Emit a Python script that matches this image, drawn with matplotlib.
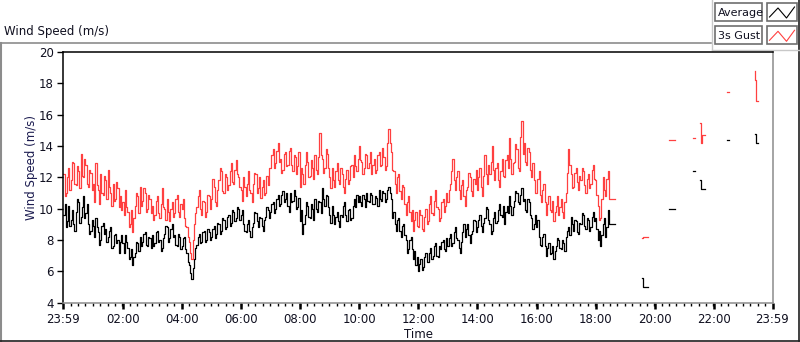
import numpy as np
import matplotlib
matplotlib.use("Agg")
import matplotlib.pyplot as plt
from matplotlib.lines import Line2D
from matplotlib.patches import Rectangle

plt.rcParams['font.family'] = ['DejaVu Sans']

# ---------------- data ----------------
# continuous record, 2.5-minute samples starting at 23:59 (minutes since start)
sample_step_min = 2.5

avg_speed = [
    9.6, 10.3, 8.8, 9.2, 10.2, 8.9, 9.3, 9.9, 9.0, 8.6, 9.8, 10.6, 10.4, 9.1, 9.5, 10.1, 10.8, 9.4, 9.7, 10.3, 9.0, 8.4, 8.6, 9.3,
    8.9, 8.2, 9.4, 8.8, 8.5, 7.7, 8.0, 8.9, 9.1, 8.4, 8.7, 7.9, 8.2, 8.6, 8.8, 7.5, 7.6, 8.3, 8.4, 7.8, 8.0, 7.2, 7.9, 8.3,
    7.8, 7.2, 8.3, 7.9, 7.5, 6.8, 6.9, 7.4, 6.4, 6.9, 7.2, 7.9, 7.8, 7.3, 8.2, 7.6, 7.9, 8.4, 8.5, 7.7, 7.6, 8.2, 8.1, 7.5,
    8.3, 7.6, 7.8, 8.5, 8.6, 7.9, 8.0, 7.3, 7.5, 8.1, 8.4, 8.9, 8.8, 7.9, 8.1, 8.7, 9.0, 8.2, 8.3, 7.7, 7.6, 8.4, 8.2, 7.4,
    7.6, 8.1, 8.2, 7.4, 7.2, 6.6, 6.4, 5.9, 5.5, 6.2, 6.8, 7.5, 7.7, 8.2, 8.4, 7.8, 7.9, 8.5, 8.6, 7.9, 8.0, 8.7, 8.5, 8.0,
    8.2, 8.7, 8.9, 8.1, 8.4, 9.1, 9.0, 8.4, 8.6, 9.4, 9.3, 8.7, 8.8, 9.5, 9.6, 8.9, 9.1, 9.9, 9.8, 9.2, 9.4, 10.1, 10.0, 9.3,
    9.6, 9.9, 9.0, 8.6, 8.5, 9.0, 9.3, 8.6, 8.2, 8.8, 9.1, 9.8, 9.7, 9.2, 8.8, 9.5, 9.4, 8.9, 8.6, 9.3, 9.5, 10.1, 9.9, 9.4,
    9.8, 10.3, 10.4, 9.7, 10.0, 10.6, 10.9, 10.2, 10.3, 10.9, 11.1, 10.4, 10.6, 11.0, 10.2, 9.8, 11.0, 10.4, 10.5, 11.2, 10.8, 10.0, 10.1, 10.7,
    9.2, 9.9, 8.4, 9.0, 9.6, 10.4, 10.2, 9.5, 9.4, 10.3, 10.0, 9.3, 10.6, 10.0, 9.8, 10.5, 10.4, 9.7, 11.3, 10.6, 10.2, 10.9, 10.8, 10.1,
    9.6, 9.1, 10.2, 9.6, 9.0, 9.5, 9.8, 9.2, 8.8, 9.6, 9.5, 10.2, 10.4, 9.6, 9.2, 9.9, 10.0, 9.3, 9.4, 10.2, 10.6, 10.1, 10.9, 10.4,
    10.8, 10.4, 10.2, 10.9, 10.6, 10.1, 11.0, 10.5, 10.4, 11.0, 10.9, 10.3, 10.3, 10.8, 10.7, 10.2, 11.2, 10.6, 10.5, 11.1, 11.0, 10.4, 10.6, 11.2,
    11.4, 11.0, 10.6, 9.4, 9.8, 9.0, 8.6, 9.3, 9.4, 8.6, 8.2, 8.9, 9.0, 8.3, 8.0, 7.2, 7.4, 8.0, 8.2, 7.4, 6.8, 7.3, 6.4, 6.9,
    6.0, 6.5, 6.8, 6.1, 6.3, 6.9, 7.2, 6.6, 6.6, 7.2, 7.5, 6.8, 7.0, 7.6, 7.8, 7.0, 6.9, 7.6, 7.4, 7.9, 8.0, 7.4, 7.3, 8.1,
    7.6, 8.1, 8.4, 7.6, 7.8, 8.5, 8.8, 8.1, 8.0, 7.5, 7.2, 7.9, 8.5, 9.0, 8.2, 8.7, 9.0, 8.3, 7.8, 8.4, 8.6, 9.3, 9.2, 8.5,
    8.8, 9.3, 9.6, 8.9, 8.5, 9.1, 9.4, 10.1, 10.0, 9.3, 9.0, 8.4, 8.6, 9.4, 9.8, 9.1, 9.2, 9.9, 10.3, 9.6, 9.5, 10.2, 9.0, 9.8,
    10.2, 9.7, 10.8, 10.2, 9.6, 10.1, 10.5, 11.1, 11.0, 10.4, 10.3, 10.9, 11.3, 10.5, 10.6, 9.9, 9.8, 10.6, 10.4, 9.6, 9.4, 8.7, 9.0, 9.6,
    8.8, 9.3, 8.2, 7.7, 7.6, 8.2, 8.4, 7.6, 7.0, 7.5, 7.8, 7.1, 7.2, 7.6, 6.8, 7.3, 7.6, 8.1, 8.0, 7.5, 7.4, 8.0, 7.8, 7.3,
    8.2, 8.6, 8.8, 8.3, 9.5, 9.0, 8.6, 9.3, 9.2, 8.5, 8.4, 9.1, 9.0, 9.7, 9.6, 8.9, 8.7, 9.4, 9.3, 8.6, 8.8, 9.5, 9.8, 9.2,
    9.4, 8.7, 8.0, 8.6, 7.6, 8.3, 9.0, 9.4, 8.2, 8.8, 9.9, 9.05, 9.05, 9.05, 9.05, 9.05, 9.05,
]

gust_speed = [
    12.2, 10.8, 11.0, 12.0, 12.6, 11.2, 11.8, 13.0, 12.9, 11.6, 11.5, 12.7, 12.4, 11.3, 13.5, 12.1, 12.0, 13.2, 12.8, 11.6, 11.4, 12.5, 12.3, 11.2,
    11.6, 10.4, 12.9, 11.5, 11.2, 10.3, 12.2, 11.0, 10.9, 12.1, 11.8, 10.6, 12.5, 11.4, 11.0, 10.2, 11.6, 10.5, 10.6, 11.7, 11.3, 10.1, 10.8, 9.9,
    10.4, 9.6, 11.2, 10.1, 9.8, 8.8, 9.0, 9.9, 8.5, 9.4, 10.2, 11.0, 10.8, 9.7, 11.4, 10.2, 10.5, 11.3, 11.0, 9.8, 10.0, 10.9, 10.6, 9.7,
    10.2, 9.3, 9.6, 10.5, 10.8, 9.7, 9.4, 10.3, 11.3, 10.1, 10.0, 9.3, 10.6, 9.8, 9.2, 10.0, 10.4, 9.5, 9.7, 10.6, 10.9, 9.8, 9.5, 10.3,
    10.0, 10.6, 9.4, 8.9, 8.8, 8.2, 7.9, 7.2, 6.8, 8.0, 9.0, 9.7, 10.1, 10.8, 11.2, 10.0, 9.6, 10.5, 10.4, 9.5, 9.8, 10.9, 10.8, 10.0,
    10.6, 11.9, 11.4, 10.4, 10.2, 11.2, 11.8, 12.6, 12.4, 11.1, 11.0, 12.2, 12.0, 11.2, 11.5, 12.4, 12.9, 11.7, 11.6, 12.5, 13.1, 12.2, 12.0, 11.4,
    11.2, 10.5, 12.0, 11.4, 10.8, 11.6, 12.4, 11.2, 11.0, 10.4, 11.6, 12.3, 12.2, 11.0, 11.3, 12.0, 10.7, 11.4, 11.8, 10.9, 11.0, 12.1, 11.5, 12.6,
    12.6, 13.4, 13.8, 12.6, 12.9, 13.7, 14.2, 13.0, 13.2, 12.3, 12.5, 13.5, 13.6, 12.7, 12.8, 13.7, 13.9, 12.8, 12.4, 13.4, 13.3, 12.2, 12.7, 13.6,
    11.4, 12.6, 12.2, 11.6, 12.8, 13.6, 13.0, 12.0, 12.1, 13.1, 12.6, 11.9, 13.4, 12.5, 12.2, 13.3, 14.8, 13.4, 13.2, 12.3, 12.6, 13.8, 13.5, 12.6,
    12.0, 11.3, 12.6, 11.8, 11.4, 12.4, 12.9, 11.8, 11.6, 12.6, 12.2, 11.4, 11.0, 11.9, 12.5, 11.6, 11.8, 12.7, 12.8, 12.0, 13.4, 12.7, 12.4, 13.2,
    14.0, 13.1, 13.0, 12.2, 12.6, 13.5, 13.4, 12.6, 12.9, 13.6, 12.2, 12.8, 13.2, 12.3, 12.5, 13.4, 13.6, 12.7, 12.8, 13.9, 13.3, 12.5, 12.7, 14.2,
    15.1, 14.2, 13.6, 12.5, 12.4, 11.6, 11.0, 12.0, 12.2, 11.1, 10.6, 11.5, 11.4, 10.3, 9.6, 10.4, 10.8, 9.8, 9.2, 9.9, 8.6, 9.3, 9.8, 8.9,
    8.8, 9.9, 9.6, 8.7, 8.6, 9.5, 10.0, 9.0, 9.2, 10.3, 10.8, 9.7, 9.6, 10.5, 11.2, 10.1, 10.0, 9.2, 9.4, 10.4, 10.6, 9.8, 10.2, 11.0,
    10.4, 11.2, 11.6, 12.4, 13.2, 11.8, 11.2, 12.0, 12.4, 11.2, 10.6, 11.5, 11.8, 10.8, 10.2, 11.2, 11.4, 12.3, 12.0, 11.1, 10.8, 11.9, 11.6, 12.5,
    11.2, 12.0, 12.6, 11.4, 10.8, 12.1, 13.4, 12.2, 11.6, 12.8, 12.2, 13.0, 14.0, 12.5, 11.8, 12.6, 12.9, 11.8, 11.4, 12.4, 13.2, 12.1, 12.0, 13.1,
    13.4, 12.6, 14.5, 13.2, 12.2, 12.9, 13.0, 14.1, 13.8, 12.6, 12.4, 14.6, 15.6, 13.5, 14.2, 13.0, 12.8, 13.9, 13.6, 12.5, 12.0, 12.9, 11.8, 11.0,
    11.0, 11.9, 12.4, 10.9, 10.4, 11.2, 11.6, 10.4, 9.6, 10.3, 10.8, 9.9, 9.8, 10.5, 9.2, 9.8, 10.2, 10.8, 9.6, 10.1, 10.6, 9.8, 9.4, 10.4,
    11.0, 12.3, 13.8, 12.8, 12.2, 11.3, 11.4, 12.3, 12.6, 11.7, 11.2, 12.1, 11.8, 12.6, 12.4, 11.5, 11.0, 11.9, 12.2, 11.3, 11.6, 12.5, 12.8, 11.9,
    11.8, 10.9, 10.2, 9.3, 9.4, 10.6, 12.0, 11.2, 10.8, 11.9, 12.4, 10.6, 10.6, 10.6, 10.6, 10.6, 10.6,
]

# sparse readings late in the day (minutes since start, NaN = gap)
tail_avg_t = [1176, 1177, 1187, np.nan, 1230, 1242, np.nan, 1279, 1283, np.nan,
              1293, 1295, 1302, np.nan, 1348, 1351, np.nan, 1404, 1406, 1410]
tail_avg_v = [5.6, 5.0, 5.0, np.nan, 10.0, 10.0, np.nan, 12.4, 12.4, np.nan,
              11.8, 11.25, 11.25, np.nan, 14.4, 14.4, np.nan, 14.75, 14.2, 14.2]
tail_gust_t = [1176, 1177, 1187, np.nan, 1230, 1242, np.nan, 1279, 1283, np.nan,
               1293, 1294, 1296, 1302, np.nan, 1348, 1351, np.nan, 1404, 1405, 1406, 1410]
tail_gust_v = [8.15, 8.22, 8.22, np.nan, 14.4, 14.4, np.nan, 14.5, 14.5, np.nan,
               15.45, 14.2, 14.7, 14.7, np.nan, 17.45, 17.45, np.nan, 18.8, 18.2, 16.85, 16.85]

x_tick_minutes = [0, 121, 241, 361, 481, 601, 721, 841, 961, 1081, 1201, 1321, 1440]
x_tick_labels = ['23:59', '02:00', '04:00', '06:00', '08:00', '10:00', '12:00',
                 '14:00', '16:00', '18:00', '20:00', '22:00', '23:59']
y_ticks = [4, 6, 8, 10, 12, 14, 16, 18, 20]

series_names = ['Average', '3s Gust']
series_colors = ['#000000', '#ff4040']

# ---------------- figure ----------------
W, H = 800, 342
fig = plt.figure(figsize=(W / 100, H / 100), dpi=100)
fig.patch.set_facecolor('white')

# overlay in pixel coordinates for the panel decorations
ov = fig.add_axes([0, 0, 1, 1], zorder=0)
ov.set_xlim(0, W)
ov.set_ylim(H, 0)
ov.axis('off')

txt_col = '#101020'
fs = 8.5
gray = '#8c8c8c'

ov.add_line(Line2D([0, 711], [42.5, 42.5], color=gray, lw=1.2))
ov.add_line(Line2D([1, 1], [42.5, 341], color=gray, lw=1.5))
ov.add_line(Line2D([0, 800], [341, 341], color='#202020', lw=1.2))
ov.add_line(Line2D([799, 799], [0, 341], color='#202020', lw=1.2))
ov.add_line(Line2D([711.5, 711.5], [0, 50], color='#c8c8c8', lw=1.0))
ov.add_line(Line2D([711.5, 800], [50, 50], color='#c8c8c8', lw=1.0))

ov.text(4, 31, 'Wind Speed (m/s)', fontsize=fs, color=txt_col, va='center', ha='left')
ov.text(31, 167.5, 'Wind Speed (m/s)', fontsize=fs, color='#1c1c50', rotation=90,
        va='center', ha='center')
ov.text(418, 334.5, 'Time', fontsize=fs, color=txt_col, va='center', ha='center')

# legend
for i, (name, col) in enumerate(zip(series_names, series_colors)):
    y0 = 3 + i * 23.3
    ov.add_patch(Rectangle((715, y0), 47, 18, fill=False, ec='#6e6e6e', lw=1.2))
    ov.add_patch(Rectangle((767, y0), 30, 18, fill=False, ec='#6e6e6e', lw=1.2))
    ov.text(717.5, y0 + 9.5, name, fontsize=8, color=txt_col, va='center', ha='left')
    ov.add_line(Line2D([769.5, 778, 786.5, 794.5],
                       [y0 + 14, y0 + 5, y0 + 15, y0 + 4], color=col, lw=0.8))

# main plot
left, right, top, bottom = 63.3, 772.5, 52.0, 302.7
ax = fig.add_axes([left / W, 1 - bottom / H, (right - left) / W, (bottom - top) / H], zorder=1)
ax.set_facecolor('white')

t = np.arange(len(avg_speed)) * sample_step_min
ax.plot(t, gust_speed, drawstyle='steps-post', color=series_colors[1], lw=0.9)
ax.plot(t, avg_speed, drawstyle='steps-post', color=series_colors[0], lw=0.9)
ax.plot(tail_gust_t, tail_gust_v, drawstyle='steps-post', color=series_colors[1], lw=0.9)
ax.plot(tail_avg_t, tail_avg_v, drawstyle='steps-post', color=series_colors[0], lw=0.9)

ax.set_xlim(0, 1440)
ax.set_ylim(4, 20)
ax.set_yticks(y_ticks)
ax.set_yticklabels([str(v) for v in y_ticks])
ax.set_xticks(x_tick_minutes)
ax.set_xticklabels(x_tick_labels)
ax.set_xticks(np.arange(0, 1441, 15), minor=True)

ax.spines['left'].set_color('#000000')
ax.spines['top'].set_color('#000000')
ax.spines['right'].set_color('#8c8c8c')
ax.spines['bottom'].set_color('#8c8c8c')
for s in ax.spines.values():
    s.set_linewidth(1.1)

ax.tick_params(axis='y', direction='out', length=4, width=1, color='black',
               labelsize=fs, labelcolor=txt_col, pad=3)
ax.tick_params(axis='x', which='major', direction='out', length=4.5, width=1.8,
               color='black', labelsize=fs, labelcolor=txt_col, pad=3)
ax.tick_params(axis='x', which='minor', direction='out', length=2.5, width=1,
               color='black')

fig.savefig('out.png', dpi=100, facecolor='white')
